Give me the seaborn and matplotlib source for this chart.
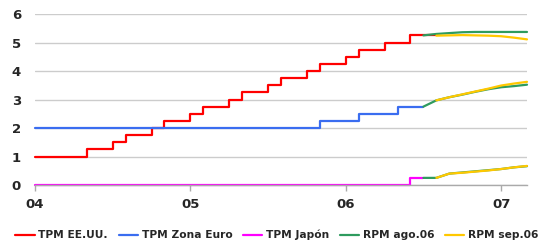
import matplotlib
matplotlib.use("Agg")
import matplotlib.pyplot as plt
import seaborn as sns
import pandas as pd

# ---- data (month index: 0 = tick "04", 12 = "05", 24 = "06", 36 = "07") ----
tick_pos = [0, 12, 24, 36]
tick_labels = ["04", "05", "06", "07"]

us_months = list(range(0, 32))
us_tpm = [1.0, 1.0, 1.0, 1.0, 1.25, 1.25, 1.5, 1.75, 1.75, 2.0, 2.25, 2.25,
          2.5, 2.75, 2.75, 3.0, 3.25, 3.25, 3.5, 3.75, 3.75, 4.0, 4.25, 4.25,
          4.5, 4.75, 4.75, 5.0, 5.0, 5.25, 5.25, 5.25]

eu_months = list(range(0, 31))
eu_tpm = [2.0] * 22 + [2.25, 2.25, 2.25, 2.5, 2.5, 2.5, 2.75, 2.75, 2.75]

jp_months = list(range(0, 31))
jp_tpm = [0.0] * 29 + [0.25, 0.25]

ago_months = [30, 31, 32, 33, 34, 35, 36, 37, 38]
ago_us = [5.25, 5.30, 5.33, 5.36, 5.37, 5.37, 5.37, 5.37, 5.37]
ago_eu = [2.75, 2.97, 3.08, 3.17, 3.27, 3.36, 3.43, 3.47, 3.52]
ago_jp = [0.25, 0.25, 0.40, 0.44, 0.48, 0.52, 0.56, 0.62, 0.66]

sep_months = [31, 32, 33, 34, 35, 36, 37, 38]
sep_us = [5.24, 5.25, 5.26, 5.25, 5.24, 5.22, 5.17, 5.11]
sep_eu = [2.97, 3.08, 3.18, 3.28, 3.38, 3.49, 3.56, 3.62]
sep_jp = [0.25, 0.40, 0.43, 0.47, 0.51, 0.56, 0.62, 0.67]

labels = ["TPM EE.UU.", "TPM Zona Euro", "TPM Japón", "RPM ago.06", "RPM sep.06"]
colors = ["#FF0000", "#3A6DF0", "#FF00FF", "#2E9B5E", "#FFC800"]

# ---- figure ----
sns.set_style("white")
plt.rcParams["font.family"] = ["DejaVu Sans"]
fig = plt.figure(figsize=(5.48, 2.47), dpi=100)
ax = fig.add_axes([35 / 548, 1 - 185 / 247, (527 - 35) / 548, (185 - 14) / 247])

lw = 1.6
sns.lineplot(x=us_months, y=us_tpm, ax=ax, color=colors[0], lw=lw,
             drawstyle="steps-post", clip_on=False, label=labels[0])
sns.lineplot(x=eu_months, y=eu_tpm, ax=ax, color=colors[1], lw=lw,
             drawstyle="steps-post", clip_on=False, label=labels[1])
sns.lineplot(x=jp_months, y=jp_tpm, ax=ax, color=colors[2], lw=lw,
             drawstyle="steps-post", clip_on=False, label=labels[2])
for i, ys in enumerate([ago_us, ago_eu, ago_jp]):
    sns.lineplot(x=ago_months, y=ys, ax=ax, color=colors[3], lw=lw,
                 clip_on=False, label=labels[3] if i == 0 else None)
for i, ys in enumerate([sep_us, sep_eu, sep_jp]):
    sns.lineplot(x=sep_months, y=ys, ax=ax, color=colors[4], lw=lw,
                 clip_on=False, label=labels[4] if i == 0 else None)

ax.set_xlim(0, 38)
ax.set_ylim(0, 6)
ax.set_yticks(range(0, 7))
ax.set_xticks(tick_pos)
ax.set_xticklabels(tick_labels)
ax.grid(axis="y", color="#CCCCCC", lw=1)
ax.set_axisbelow(True)
for s in ["top", "right", "left"]:
    ax.spines[s].set_visible(False)
ax.spines["bottom"].set_color("#AAAAAA")
ax.spines["bottom"].set_linewidth(1)
ax.tick_params(axis="y", length=0, pad=10, labelsize=9.5)
ax.tick_params(axis="x", length=4, color="#AAAAAA", width=1, pad=5, labelsize=9.5, direction="out", bottom=True)
for t in ax.get_xticklabels() + ax.get_yticklabels():
    t.set_fontweight("bold")
ax.set_xlabel("")
ax.set_ylabel("")

handles, labs = ax.get_legend_handles_labels()
ax.legend_.remove()
fig.legend(handles, labs, loc="center", bbox_to_anchor=(277 / 548, 1 - 235 / 247), ncol=5,
           frameon=False, handlelength=1.8, handletextpad=0.35, columnspacing=1.0,
           borderaxespad=0, borderpad=0,
           prop={"weight": "bold", "size": 7.7})

fig.savefig("out.png", dpi=100)
